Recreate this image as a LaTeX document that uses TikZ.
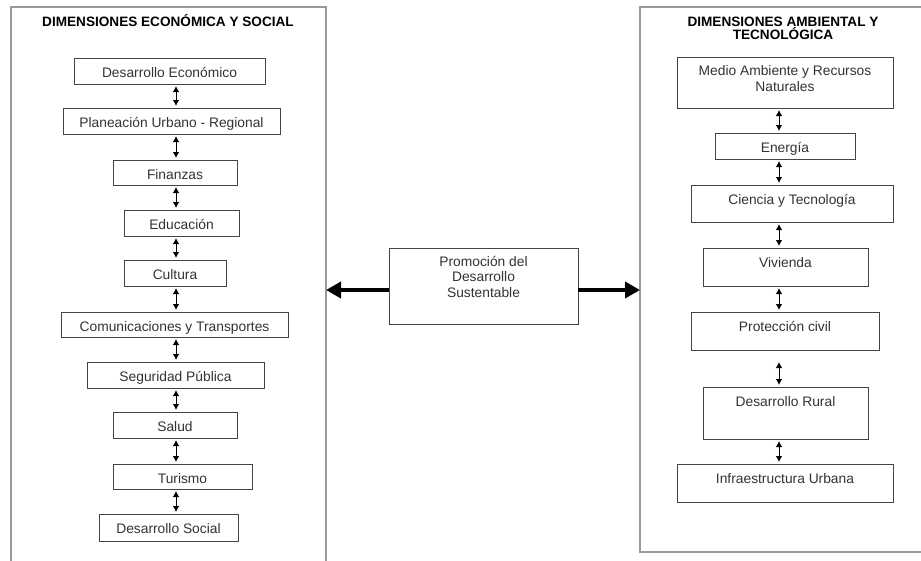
\documentclass[tikz,border=0pt]{standalone}
\usepackage{fontspec}
\setmainfont{Liberation Sans}
\usetikzlibrary{arrows.meta}
\definecolor{boxline}{HTML}{444444}
\definecolor{frameline}{HTML}{9A9A9A}
\definecolor{txtcol}{HTML}{333333}
\newcommand\mybox[6]{%
  \node[box, minimum width={(#4-#2)*1pt}, minimum height={(#5-#3)*1pt}] (#1) at (#2,#3) {};
  \node[txt, anchor=base] (#1t) at ([yshift=-19pt]#1.north) {#6};}
\begin{document}
\begin{tikzpicture}[x=1pt,y=-1pt,
  box/.style={draw=boxline, line width=1pt, inner sep=0pt, outer sep=0pt, anchor=north west},
  frame/.style={draw=frameline, line width=1.6pt, inner sep=0pt, outer sep=0pt, anchor=north west},
  txt/.style={text=txtcol, font=\fontsize{13.8}{16}\selectfont, inner sep=0pt, align=center},
  ttl/.style={font=\bfseries\fontsize{13.6}{13}\selectfont, inner sep=0pt, align=center},
  link/.style={line width=1pt, {Latex[length=6pt,width=6.5pt]}-{Latex[length=6pt,width=6.5pt]}, shorten >=2pt, shorten <=2pt},
  bigarrow/.style={line width=4.5pt, -{Triangle[length=15pt,width=16pt]}}]
\useasboundingbox (0,0) rectangle (921,560);
\fill[white] (0,0) rectangle (921,560);
\clip (0,0) rectangle (921,560);

% frames
\node[frame, minimum width=315pt, minimum height=580pt] (lf) at (11,7) {};
\node[frame, minimum width=300pt, minimum height=545pt] (rf) at (640,7) {};

% titles
\node[ttl, anchor=base] (lt) at (168,26) {DIMENSIONES ECONÓMICA Y SOCIAL};
\node[ttl, anchor=north] (rt) at (783,17) {DIMENSIONES AMBIENTAL Y\\TECNOLÓGICA};

% left column
\mybox{de}{74}{58}{265}{84}{Desarrollo Económico}
\mybox{pu}{63}{108}{280}{134}{Planeación Urbano - Regional}
\mybox{fi}{113}{160}{237}{185}{Finanzas}
\mybox{ed}{124}{210}{239}{236}{Educación}
\mybox{cu}{124}{260}{226}{286}{Cultura}
\mybox{ct}{61}{312}{288}{337}{Comunicaciones y Transportes}
\mybox{sp}{87}{362}{264}{388}{Seguridad Pública}
\mybox{sa}{113}{412}{237}{438}{Salud}
\mybox{tu}{113}{464}{252}{489}{Turismo}
\mybox{ds}{99}{514}{238}{541}{Desarrollo Social}

% right column
\node[box, minimum width=216pt, minimum height=51pt] (ma) at (677,57) {};
\node[txt, anchor=north] (mat) at ([yshift=-8pt]ma.north) {Medio Ambiente y Recursos\\Naturales};
\mybox{en}{715}{133}{855}{159}{Energía}
\mybox{cy}{691}{185}{893}{222}{Ciencia y Tecnología}
\mybox{vi}{703}{248}{868}{286}{Vivienda}
\mybox{pc}{691}{312}{879}{350}{Protección civil}
\mybox{dr}{703}{387}{868}{439}{Desarrollo Rural}
\mybox{iu}{677}{464}{893}{502}{Infraestructura Urbana}

% centre
\node[box, minimum width=189pt, minimum height=76pt] (cb) at (389,248) {};
\node[txt, anchor=north, font=\fontsize{13.8}{15.5}\selectfont] (cbt) at ([yshift=-8pt]cb.north) {Promoción del\\Desarrollo\\Sustentable};

% links
\coordinate (lax) at (176,0);
\coordinate (rax) at (779,0);
\foreach \a/\b in {de/pu,pu/fi,fi/ed,ed/cu,cu/ct,ct/sp,sp/sa,sa/tu,tu/ds}
  \draw[link] (\a.south -| lax) -- (\b.north -| lax);
\foreach \a/\b in {ma/en,en/cy,cy/vi,vi/pc,dr/iu}
  \draw[link] (\a.south -| rax) -- (\b.north -| rax);
\draw[link, shorten <=12pt] (pc.south -| rax) -- (dr.north -| rax);

% big arrows
\coordinate (ay) at (0,290);
\draw[bigarrow] (cb.west |- ay) -- (lf.east |- ay);
\draw[bigarrow] (cb.east |- ay) -- (rf.west |- ay);
\end{tikzpicture}
\end{document}
